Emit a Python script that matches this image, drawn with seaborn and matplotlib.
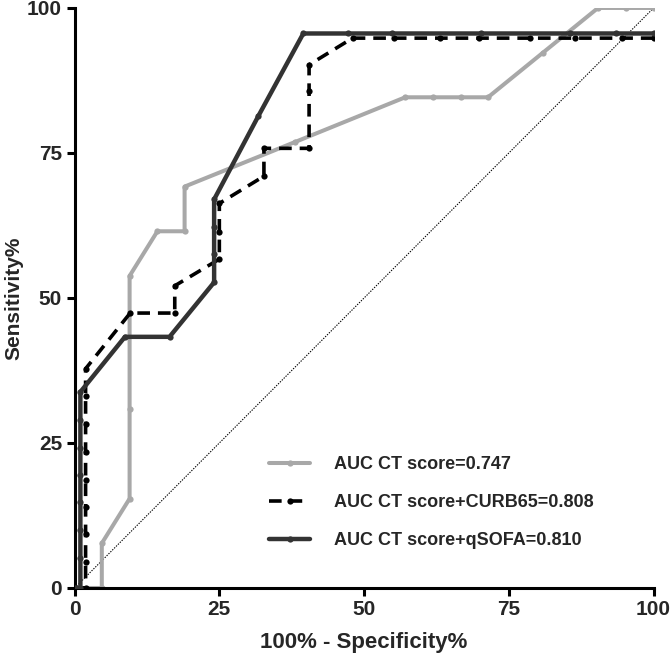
import numpy as np
import pandas as pd
import matplotlib
matplotlib.use("Agg")
import matplotlib.pyplot as plt
import seaborn as sns

# ROC points (x = 100% - specificity, y = sensitivity)
ct_x = [0, 4.7, 4.7, 9.5, 9.5, 9.5, 14.3, 19.0, 19.0, 38.1, 57.1, 61.9, 66.7, 71.4, 80.9, 90.4, 95.2, 100]
ct_y = [0, 0, 7.7, 15.4, 30.8, 53.8, 61.5, 61.5, 69.2, 76.9, 84.6, 84.6, 84.6, 84.6, 92.3, 100, 100, 100]

curb_x = [0, 1.9, 1.9, 1.9, 1.9, 1.9, 1.9, 1.9, 1.9, 1.9, 9.6, 17.3, 17.3, 25.0, 25.0, 25.0,
          32.7, 32.7, 40.5, 40.5, 40.5, 48.0, 55.1, 63.1, 69.9, 78.7, 86.4, 94.5, 100]
curb_y = [0, 0, 4.5, 9.3, 14.0, 18.7, 23.5, 28.2, 33.1, 37.8, 47.4, 47.4, 52.1, 56.7, 61.4, 66.3,
          71.0, 75.8, 75.8, 85.6, 90.2, 94.8, 94.8, 94.8, 94.8, 94.8, 94.8, 94.8, 94.8]

qsofa_x = [0, 1.0, 1.0, 1.0, 1.0, 1.0, 1.0, 1.0, 1.0, 8.7, 16.4, 24.1, 24.1, 24.1, 24.1,
           31.7, 39.5, 47.3, 54.9, 70.2, 85.6, 93.5, 100]
qsofa_y = [0, 0, 5.2, 10.0, 14.8, 19.5, 24.2, 29.0, 33.8, 43.3, 43.3, 52.7, 57.5, 62.3, 67.0,
           81.3, 95.6, 95.6, 95.6, 95.6, 95.6, 95.6, 95.6]

labels = ["AUC CT score=0.747", "AUC CT score+CURB65=0.808", "AUC CT score+qSOFA=0.810"]
ticks = [0, 25, 50, 75, 100]

sns.set_style("white")
plt.rcParams["font.family"] = ["Liberation Sans", "DejaVu Sans"]
plt.rcParams["font.weight"] = "bold"

fig = plt.figure(figsize=(6.72, 6.58), dpi=100)
ax = fig.add_axes([0.111, 0.1064, 0.8616, 0.8815])

# reference line
ax.plot([0, 100], [0, 100], color="black", linestyle=(0, (1.2, 1.2)), linewidth=0.8, zorder=1)

sns.lineplot(x=ct_x, y=ct_y, sort=False, estimator=None, ax=ax, color="#a8a8a8",
             linewidth=2.9, marker="o", markersize=4.5, markeredgewidth=0, label=labels[0], zorder=2)
sns.lineplot(x=curb_x, y=curb_y, sort=False, estimator=None, ax=ax, color="black",
             linewidth=2.6, linestyle=(0, (3.5, 2.2)), marker="o", markersize=4.5,
             markeredgewidth=0, label=labels[1], zorder=3)
sns.lineplot(x=qsofa_x, y=qsofa_y, sort=False, estimator=None, ax=ax, color="#333333",
             linewidth=3.2, marker="o", markersize=4.5, markeredgewidth=0, label=labels[2], zorder=4)

ax.set_xlim(0, 100)
ax.set_ylim(0, 100)
ax.set_xticks(ticks)
ax.set_yticks(ticks)
ax.set_xticklabels([str(t) for t in ticks], fontsize=15, fontweight="bold")
ax.set_yticklabels([str(t) for t in ticks], fontsize=15, fontweight="bold")
ax.set_xlabel("100% - Specificity%", fontsize=16, fontweight="bold", labelpad=9)
ax.set_ylabel("Sensitivity%", fontsize=15, fontweight="bold", labelpad=3)

sns.despine(ax=ax)
for side in ["left", "bottom"]:
    ax.spines[side].set_linewidth(2.2)
    ax.spines[side].set_color("black")
ax.tick_params(axis="both", direction="out", length=6, width=2.2, color="black",
               bottom=True, left=True, pad=3)

ax.legend(loc="center left", bbox_to_anchor=(0.32, 0.147), frameon=False, borderpad=0,
          prop={"size": 13, "weight": "bold"}, labelspacing=1.15, handlelength=2.3,
          handletextpad=1.3)

fig.savefig("out.png", dpi=100)
